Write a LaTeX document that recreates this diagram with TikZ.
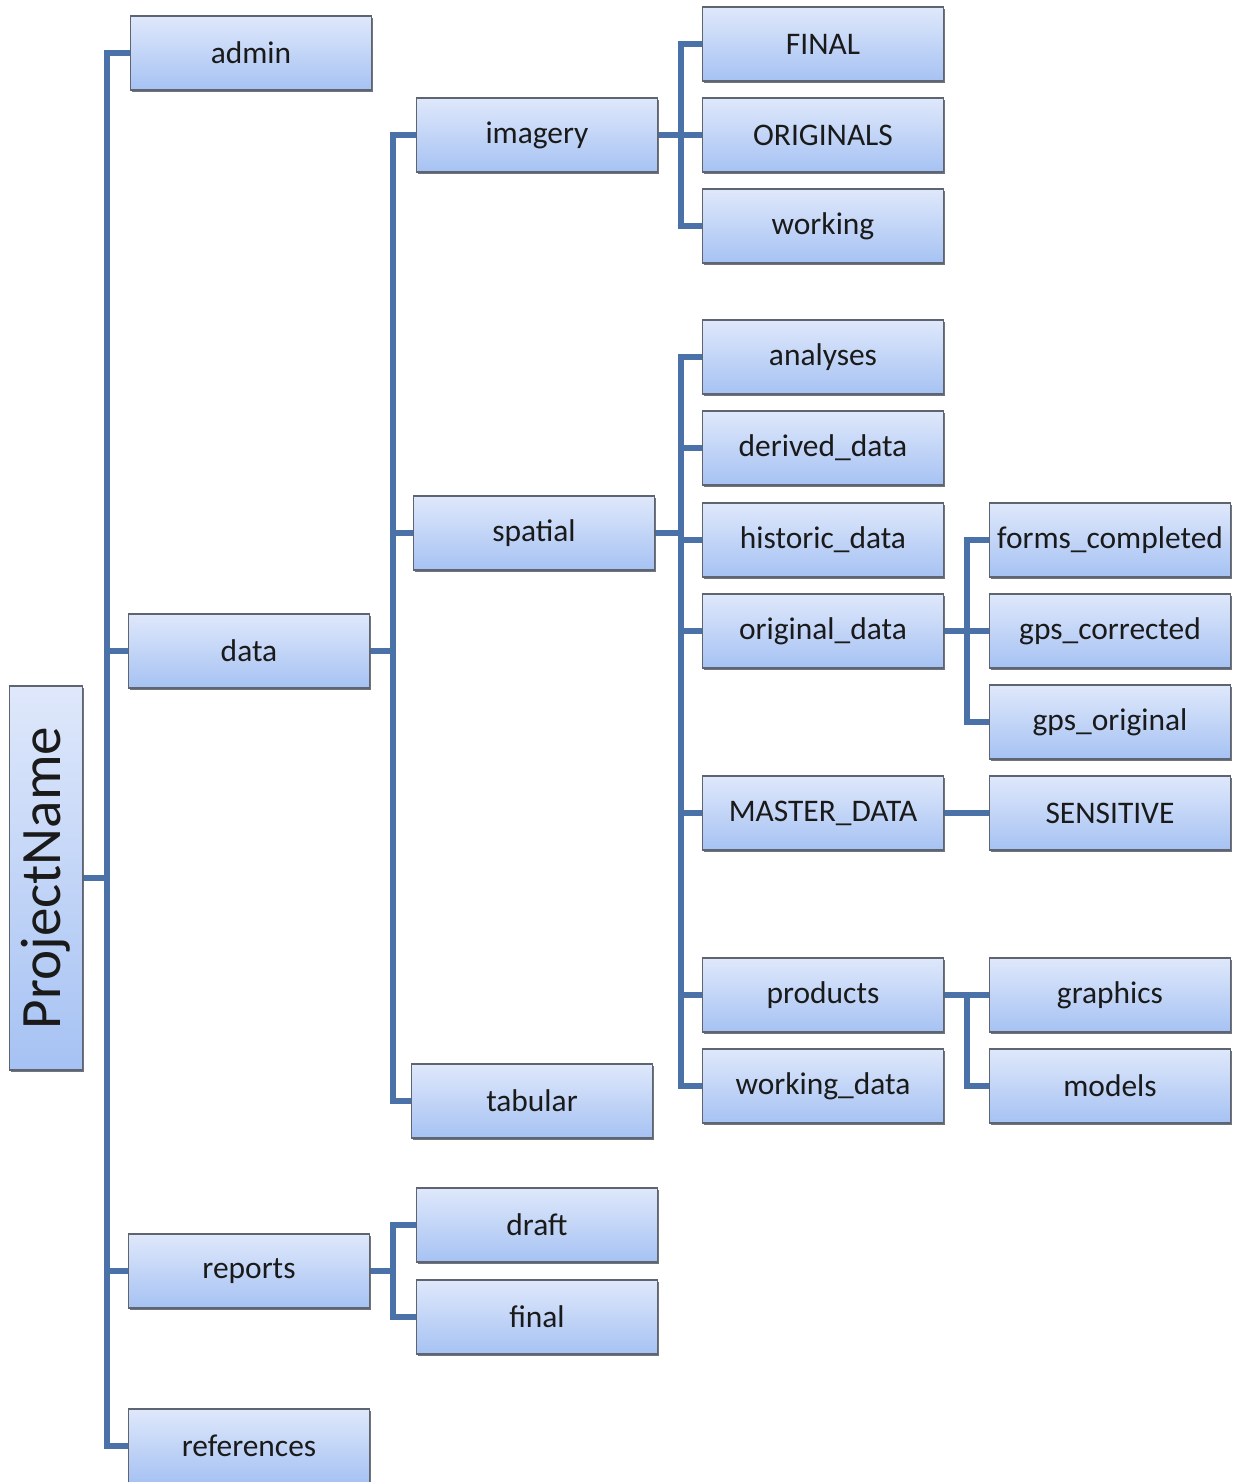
\documentclass[tikz,border=0pt]{standalone}
\usepackage{fontspec}
\setmainfont{Carlito}
\usetikzlibrary{shadows,backgrounds}
\definecolor{linec}{HTML}{4A72A8}
\definecolor{topc}{HTML}{DFE8FB}
\definecolor{botc}{HTML}{A6C2F3}
\definecolor{edgec}{HTML}{5F6570}
\definecolor{txt}{HTML}{1A1A1A}
\tikzset{
  folder/.style={rectangle, inner sep=0pt, minimum width=4.82cm, minimum height=1.48cm,
    top color=topc, bottom color=botc, draw=edgec, line width=0.7pt,
    drop shadow={shadow xshift=0.9pt, shadow yshift=-1.2pt, fill=edgec, opacity=0.9},
    font=\fontsize{17.9}{20}\selectfont, text=txt},
  rootbox/.style={folder, rotate=90, minimum width=7.68cm, minimum height=1.46cm,
    font=\fontsize{32.5}{36}\selectfont},
  conn/.style={draw=linec, line width=3.3pt, line cap=rect, line join=miter}
}
\begin{document}
\begin{tikzpicture}[x=0.02cm, y=-0.02cm]
\useasboundingbox (0,0) rectangle (1238,1482);
% nodes
\node[rootbox] (root) at (46,878) {ProjectName};
\node[folder] (admin) at (251,53) {admin};
\node[folder] (data) at (249,651) {data};
\node[folder] (reports) at (249,1271) {reports};
\node[folder] (references) at (249,1446) {references};
\node[folder] (imagery) at (537,135) {imagery};
\node[folder] (spatial) at (534,533) {spatial};
\node[folder] (tabular) at (532,1101) {tabular};
\node[folder] (draft) at (537,1225) {draft};
\node[folder] (final) at (537,1317) {final};
\node[folder] (FINAL) at (823,44) {FINAL};
\node[folder] (ORIG) at (823,135) {ORIGINALS};
\node[folder] (working) at (823,226) {working};
\node[folder] (analyses) at (823,357) {analyses};
\node[folder] (derived) at (823,448) {derived\_data};
\node[folder] (historic) at (823,540) {historic\_data};
\node[folder] (original) at (823,631) {original\_data};
\node[folder] (master) at (823,813) {MASTER\_DATA};
\node[folder] (products) at (823,995) {products};
\node[folder] (workingdata) at (823,1086) {working\_data};
\node[folder] (forms) at (1110,540) {forms\_completed};
\node[folder] (gpsc) at (1110,631) {gps\_corrected};
\node[folder] (gpso) at (1110,722) {gps\_original};
\node[folder] (sensitive) at (1110,813) {SENSITIVE};
\node[folder] (graphics) at (1110,995) {graphics};
\node[folder] (models) at (1110,1086) {models};
% trunk points
\coordinate (t0) at (107,878);
\coordinate (t1) at (393,651);
\coordinate (t2) at (393,1271);
\coordinate (t3) at (681,135);
\coordinate (t4) at (681,533);
\coordinate (t5) at (967,631);
\coordinate (t6) at (967,995);
% connectors under the boxes
\begin{scope}[on background layer]
\draw[conn] (root.south) -- (t0);
\draw[conn] (t0) |- (admin.west);
\draw[conn] (t0) |- (data.west);
\draw[conn] (t0) |- (reports.west);
\draw[conn] (t0) |- (references.west);
\draw[conn] (data.east) -- (t1);
\draw[conn] (t1) |- (imagery.west);
\draw[conn] (t1) |- (spatial.west);
\draw[conn] (t1) |- (tabular.west);
\draw[conn] (reports.east) -- (t2);
\draw[conn] (t2) |- (draft.west);
\draw[conn] (t2) |- (final.west);
\draw[conn] (imagery.east) -- (t3);
\draw[conn] (t3) |- (FINAL.west);
\draw[conn] (t3) |- (ORIG.west);
\draw[conn] (t3) |- (working.west);
\draw[conn] (spatial.east) -- (t4);
\draw[conn] (t4) |- (analyses.west);
\draw[conn] (t4) |- (derived.west);
\draw[conn] (t4) |- (historic.west);
\draw[conn] (t4) |- (original.west);
\draw[conn] (t4) |- (master.west);
\draw[conn] (t4) |- (products.west);
\draw[conn] (t4) |- (workingdata.west);
\draw[conn] (original.east) -- (t5);
\draw[conn] (t5) |- (forms.west);
\draw[conn] (t5) |- (gpsc.west);
\draw[conn] (t5) |- (gpso.west);
\draw[conn] (master.east) -- (sensitive.west);
\draw[conn] (products.east) -- (t6);
\draw[conn] (t6) |- (graphics.west);
\draw[conn] (t6) |- (models.west);
\end{scope}
\end{tikzpicture}
\end{document}
